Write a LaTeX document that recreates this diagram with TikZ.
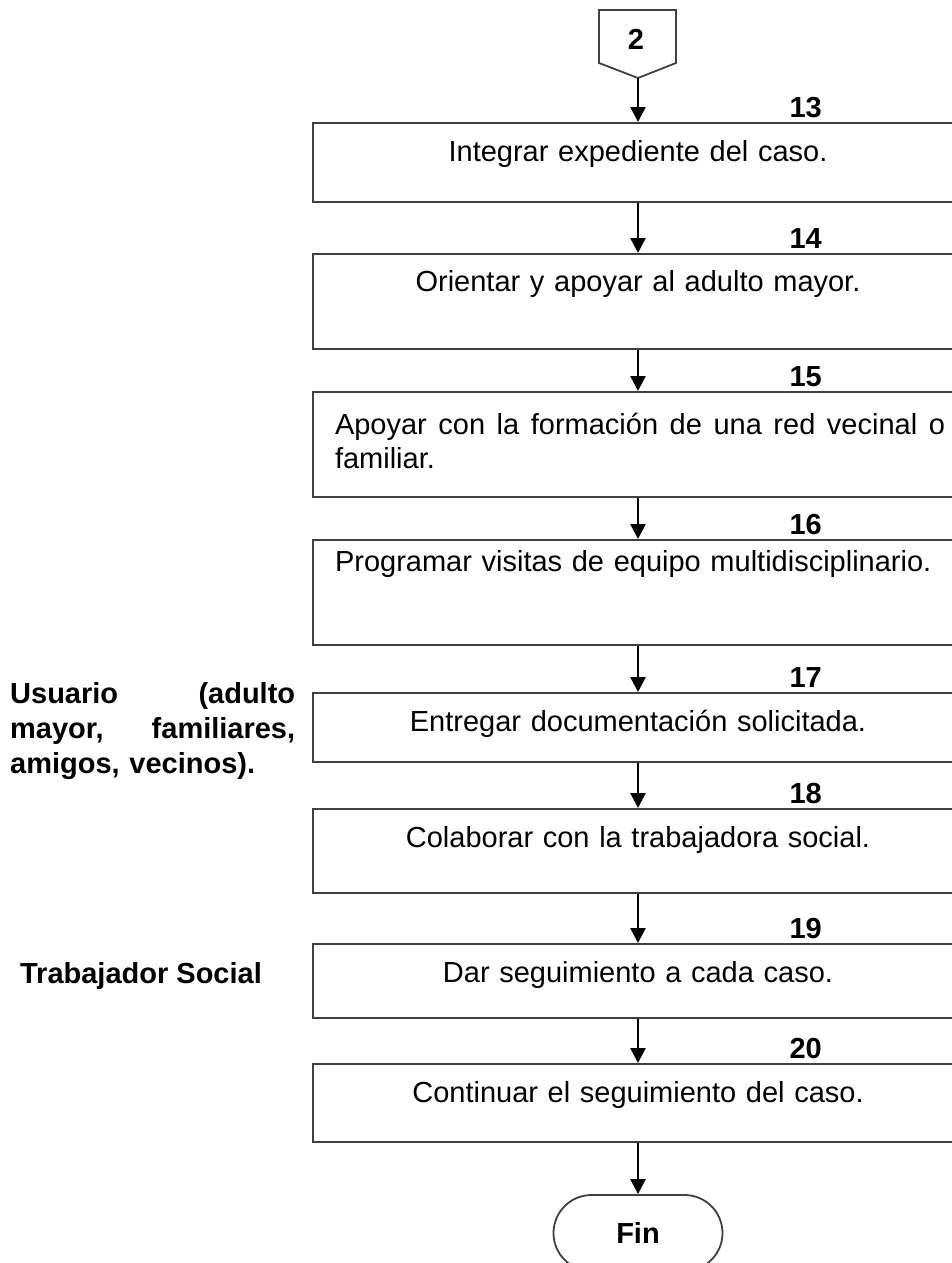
\documentclass[tikz,border=0pt]{standalone}
\usepackage{fontspec}
\setmainfont{Liberation Sans}
\usetikzlibrary{arrows.meta}

\tikzset{
  paso/.style={draw=black!75, line width=1.8pt, minimum width=650pt, anchor=north, inner sep=0pt},
  texto/.style={text width=610pt, align=center, inner sep=0pt, font=\fontsize{29}{34}\selectfont},
  numero/.style={anchor=base east, inner sep=0pt, font=\bfseries\fontsize{29}{34}\selectfont},
  negrita/.style={inner sep=0pt, font=\bfseries\fontsize{29}{35}\selectfont},
  flecha/.style={-{Triangle[length=15pt,width=15pt]}, line width=2.6pt},
}

\begin{document}
\begin{tikzpicture}[x=1pt,y=-1pt]
        \useasboundingbox (0,0) rectangle (952,1263);
        \clip (0,0) rectangle (952,1263);

        % conector 2
        \draw[draw=black!75, line width=1.8pt] (599,10) -- (676,10) -- (676,63) -- (638,78) -- (599,63) -- cycle;
        \node[negrita] (c2) at (636,39) {2};
        \coordinate (tip2) at (638,78);

        % actividades
        \node[paso, minimum height=79pt] (b13) at (638,122) {};
        \node[paso, minimum height=95pt] (b14) at (638,253) {};
        \node[paso, minimum height=105pt] (b15) at (638,391) {};
        \node[paso, minimum height=105pt] (b16) at (638,539) {};
        \node[paso, minimum height=69pt] (b17) at (638,692) {};
        \node[paso, minimum height=84pt] (b18) at (638,808) {};
        \node[paso, minimum height=74pt] (b19) at (638,943) {};
        \node[paso, minimum height=78pt] (b20) at (638,1063) {};

        \node[texto] (t13) at ([yshift=-32pt]b13.north) {Integrar expediente del caso.};
        \node[texto] (t14) at ([yshift=-31pt]b14.north) {Orientar y apoyar al adulto mayor.};
        \node[texto, align=justify] (t15) at ([xshift=2pt,yshift=-50pt]b15.north) {Apoyar con la formación de una red vecinal o\linebreak familiar.};
        \node[texto, align=left] (t16) at ([xshift=2pt,yshift=-25pt]b16.north) {Programar visitas de equipo multidisciplinario.};
        \node[texto] (t17) at ([yshift=-32pt]b17.north) {Entregar documentación solicitada.};
        \node[texto] (t18) at ([yshift=-32pt]b18.north) {Colaborar con la trabajadora social.};
        \node[texto] (t19) at ([yshift=-32pt]b19.north) {Dar seguimiento a cada caso.};
        \node[texto] (t20) at ([yshift=-32pt]b20.north) {Continuar el seguimiento del caso.};

        % numeros
        \node[numero] (n13) at ([xshift=184pt,yshift=5pt]b13.north) {13};
        \node[numero] (n14) at ([xshift=184pt,yshift=5pt]b14.north) {14};
        \node[numero] (n15) at ([xshift=184pt,yshift=5pt]b15.north) {15};
        \node[numero] (n16) at ([xshift=184pt,yshift=5pt]b16.north) {16};
        \node[numero] (n17) at ([xshift=184pt,yshift=5pt]b17.north) {17};
        \node[numero] (n18) at ([xshift=184pt,yshift=5pt]b18.north) {18};
        \node[numero] (n19) at ([xshift=184pt,yshift=5pt]b19.north) {19};
        \node[numero] (n20) at ([xshift=184pt,yshift=5pt]b20.north) {20};

        % fin
        \node[draw=black!75, line width=1.8pt, rounded corners=38pt, minimum width=169pt, minimum height=76pt, negrita] (fin) at (638,1233) {Fin};

        % responsables
        \node[negrita, text width=285pt, align=left, anchor=north west] (usuario) at (10,682) {Usuario \hfill (adulto\\ mayor, \hfill familiares,\\ amigos, vecinos).};
        \node[negrita] (trabajador) at (141,976) {Trabajador Social};

        \path [flecha](tip2) edge (b13);
        \path [flecha](b13) edge (b14);
        \path [flecha](b14) edge (b15);
        \path [flecha](b15) edge (b16);
        \path [flecha](b16) edge (b17);
        \path [flecha](b17) edge (b18);
        \path [flecha](b18) edge (b19);
        \path [flecha](b19) edge (b20);
        \path [flecha](b20) edge (fin);
    \end{tikzpicture}
\end{document}
